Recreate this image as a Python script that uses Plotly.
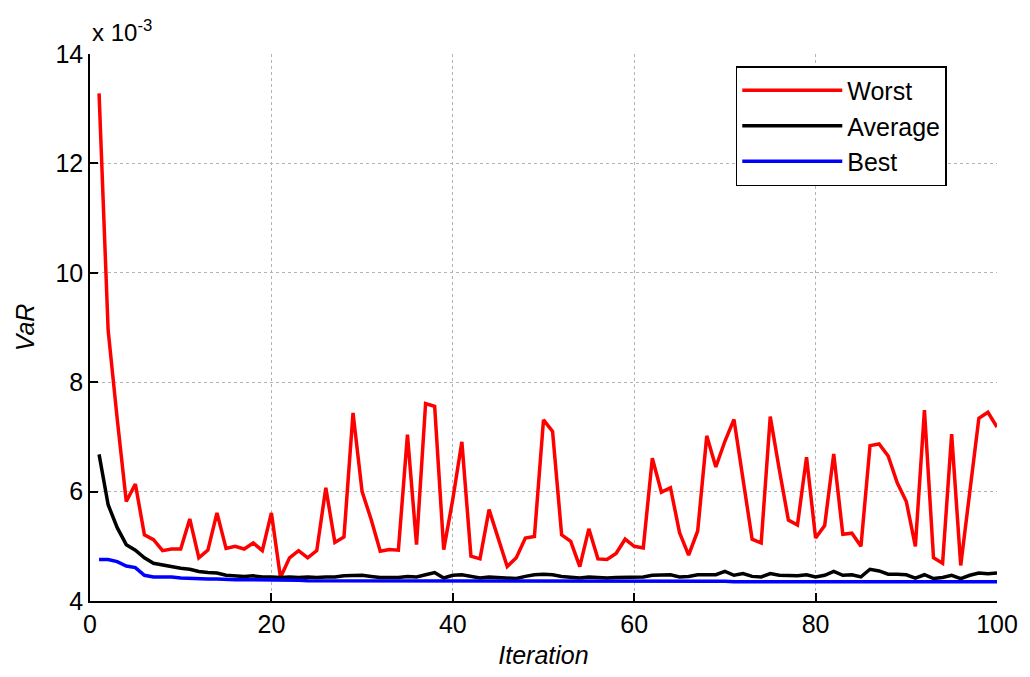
import plotly.graph_objects as go

iterations = list(range(1, 101))

# VaR values, in units of 1e-3
worst = [13.28, 8.95, 7.33, 5.82, 6.14, 5.21, 5.12, 4.92, 4.95, 4.95,
         5.50, 4.79, 4.93, 5.61, 4.96, 5.00, 4.95, 5.06, 4.92, 5.61,
         4.43, 4.79, 4.92, 4.79, 4.92, 6.07, 5.07, 5.17, 7.44, 6.00,
         5.49, 4.91, 4.94, 4.93, 7.04, 5.03, 7.61, 7.56, 4.94, 5.86,
         6.91, 4.82, 4.77, 5.67, 5.15, 4.63, 4.79, 5.15, 5.18, 7.31,
         7.10, 5.21, 5.09, 4.63, 5.32, 4.77, 4.76, 4.87, 5.13, 5.00,
         4.97, 6.61, 5.99, 6.07, 5.25, 4.84, 5.28, 7.02, 6.45, 6.92,
         7.32, 6.25, 5.13, 5.06, 7.37, 6.40, 5.48, 5.39, 6.63, 5.15,
         5.38, 6.69, 5.22, 5.24, 5.00, 6.84, 6.87, 6.65, 6.16, 5.82,
         5.00, 7.49, 4.79, 4.69, 7.05, 4.65, 5.99, 7.34, 7.45, 7.18]

average = [6.68, 5.76, 5.34, 5.03, 4.93, 4.79, 4.69, 4.66, 4.62, 4.60,
           4.58, 4.54, 4.52, 4.51, 4.47, 4.46, 4.45, 4.46, 4.44, 4.44,
           4.43, 4.44, 4.43, 4.44, 4.43, 4.44, 4.44, 4.46, 4.47, 4.47,
           4.45, 4.43, 4.43, 4.43, 4.45, 4.44, 4.48, 4.52, 4.42, 4.47,
           4.48, 4.45, 4.42, 4.44, 4.43, 4.41, 4.41, 4.45, 4.48, 4.49,
           4.48, 4.45, 4.43, 4.42, 4.44, 4.43, 4.42, 4.43, 4.43, 4.43,
           4.44, 4.47, 4.48, 4.48, 4.44, 4.45, 4.48, 4.48, 4.48, 4.54,
           4.47, 4.50, 4.45, 4.44, 4.50, 4.47, 4.47, 4.46, 4.48, 4.44,
           4.47, 4.54, 4.47, 4.48, 4.44, 4.58, 4.55, 4.49, 4.49, 4.48,
           4.42, 4.48, 4.41, 4.43, 4.47, 4.41, 4.47, 4.51, 4.50, 4.51]

best = [4.76, 4.76, 4.72, 4.64, 4.61, 4.47, 4.44, 4.44, 4.44, 4.42,
        4.41, 4.40, 4.40, 4.40, 4.39, 4.39, 4.39, 4.39, 4.38, 4.38,
        4.38, 4.38, 4.38, 4.37, 4.37, 4.37, 4.37, 4.37, 4.37, 4.37,
        4.37, 4.37, 4.37, 4.37, 4.37, 4.37, 4.37, 4.36, 4.36, 4.36,
        4.36, 4.36, 4.36, 4.36, 4.36, 4.36, 4.36, 4.36, 4.36, 4.36,
        4.36, 4.36, 4.36, 4.36, 4.36, 4.36, 4.36, 4.36, 4.36, 4.36,
        4.36, 4.36, 4.36, 4.36, 4.36, 4.36, 4.36, 4.36, 4.36, 4.36,
        4.35, 4.35, 4.35, 4.35, 4.35, 4.35, 4.35, 4.35, 4.35, 4.35,
        4.35, 4.35, 4.35, 4.35, 4.35, 4.35, 4.35, 4.35, 4.35, 4.35,
        4.35, 4.35, 4.35, 4.35, 4.35, 4.35, 4.35, 4.35, 4.35, 4.35]

x_ticks = [0, 20, 40, 60, 80, 100]
y_ticks = [4, 6, 8, 10, 12, 14]

FONT = "Liberation Sans, Arial, sans-serif"

fig = go.Figure()
fig.add_trace(go.Scatter(x=iterations, y=worst, mode="lines", name="Worst",
                         line=dict(color="#ff0000", width=3.5)))
fig.add_trace(go.Scatter(x=iterations, y=average, mode="lines", name="Average",
                         line=dict(color="#000000", width=3.5)))
fig.add_trace(go.Scatter(x=iterations, y=best, mode="lines", name="Best",
                         line=dict(color="#0000ff", width=3.5)))

axis_common = dict(
    showgrid=True, gridcolor="#b4b4b4", griddash="dot", gridwidth=1,
    showline=True, linecolor="#000000", linewidth=1.5,
    ticks="inside", ticklen=8, tickcolor="#000000", tickwidth=1.5,
    tickfont=dict(family=FONT, size=25, color="#000000"),
    zeroline=False, mirror=False,
)

fig.update_layout(
    width=1030, height=677,
    margin=dict(l=90, r=28, t=54, b=75),
    paper_bgcolor="white", plot_bgcolor="white",
    font=dict(family=FONT, size=25, color="#000000"),
    xaxis=dict(range=[0, 100], tickvals=x_ticks,
               title=dict(text="<i>Iteration</i>", standoff=10,
                          font=dict(family=FONT, size=25)),
               **axis_common),
    yaxis=dict(range=[4, 14], tickvals=y_ticks,
               title=dict(text="<i>VaR</i>", standoff=14,
                          font=dict(family=FONT, size=25)),
               **axis_common),
    legend=dict(x=0.712, y=0.978, xanchor="left", yanchor="top",
                bgcolor="white", bordercolor="#000000", borderwidth=1.5,
                font=dict(family=FONT, size=25, color="#000000"),
                itemwidth=100, tracegroupgap=0),
    annotations=[dict(text="x 10<sup>-3</sup>", xref="paper", yref="paper",
                      x=0, y=1, xanchor="left", yanchor="bottom",
                      yshift=6, showarrow=False,
                      font=dict(family=FONT, size=24, color="#000000"))],
)

fig.write_html("out.html")
